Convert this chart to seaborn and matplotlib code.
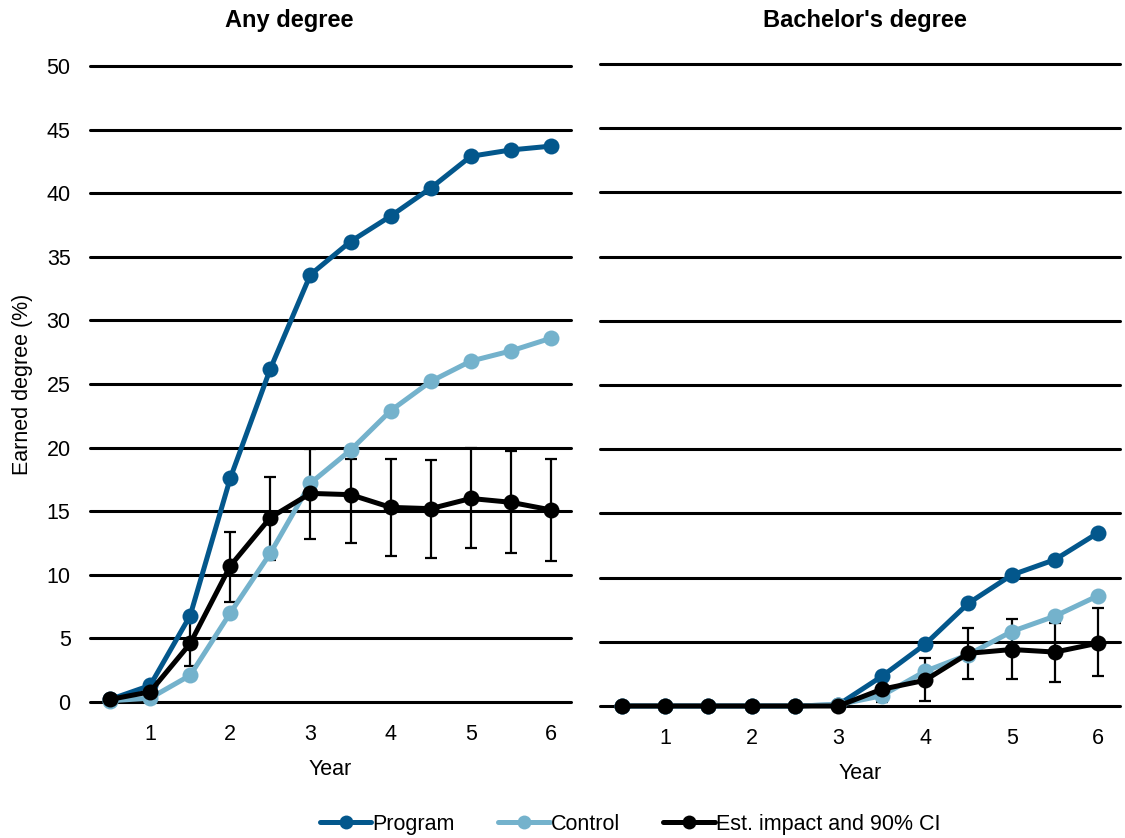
import numpy as np
import pandas as pd
import matplotlib
matplotlib.use("Agg")
import matplotlib.pyplot as plt
from matplotlib.lines import Line2D
import seaborn as sns

# half-year steps
years = [0.5, 1, 1.5, 2, 2.5, 3, 3.5, 4, 4.5, 5, 5.5, 6]
tick_years = [1, 2, 3, 4, 5, 6]

# Any degree
any_program = [0.2, 1.3, 6.8, 17.6, 26.2, 33.6, 36.2, 38.2, 40.4, 42.9, 43.4, 43.7]
any_control = [0.1, 0.3, 2.1, 7.0, 11.7, 17.2, 19.8, 22.9, 25.2, 26.8, 27.6, 28.6]
any_impact = [0.2, 0.8, 4.6, 10.7, 14.5, 16.4, 16.3, 15.3, 15.2, 16.0, 15.7, 15.1]
any_ci_low = [0.2, 0.8, 2.8, 7.9, 11.2, 12.8, 12.5, 11.5, 11.3, 12.1, 11.7, 11.1]
any_ci_high = [0.2, 0.8, 6.4, 13.4, 17.7, 19.9, 19.1, 19.1, 19.0, 20.0, 19.7, 19.1]

# Bachelor's degree
ba_program = [0, 0, 0, 0, 0, 0.1, 2.3, 4.8, 8.0, 10.2, 11.4, 13.5]
ba_control = [0, 0, 0, 0, 0, 0.1, 0.8, 2.7, 4.0, 5.8, 7.0, 8.6]
ba_impact = [0, 0, 0, 0, 0, 0, 1.3, 2.0, 4.1, 4.4, 4.2, 4.9]
ba_ci_low = [0, 0, 0, 0, 0, 0, 0.3, 0.4, 2.1, 2.1, 1.9, 2.3]
ba_ci_high = [0, 0, 0, 0, 0, 0, 2.3, 3.7, 6.1, 6.8, 6.5, 7.6]

series_names = ["Program", "Control", "Est. impact and 90% CI"]
colors = ["#03578C", "#74B2CC", "#000000"]

sns.set_style("white")
plt.rcParams["font.family"] = ["Liberation Sans", "DejaVu Sans"]
plt.rcParams["text.color"] = "black"
plt.rcParams["axes.labelcolor"] = "black"
plt.rcParams["xtick.color"] = "black"
plt.rcParams["ytick.color"] = "black"

FS = 15.5
W, H = 1125, 838
fig = plt.figure(figsize=(W / 100, H / 100), dpi=100)


def axes_at(x0, x1, y_top, y_bottom):
    return fig.add_axes([x0 / W, 1 - y_bottom / H, (x1 - x0) / W, (y_bottom - y_top) / H])


def draw_panel(ax, program, control, impact, lo, hi):
    df = pd.DataFrame({
        "year": years * 3,
        "value": program + control + impact,
        "series": np.repeat(series_names, len(years)),
    })
    ax.set_axisbelow(True)
    ax.yaxis.grid(True, color="black", lw=2.2)
    sns.lineplot(data=df, x="year", y="value", hue="series", palette=colors,
                 hue_order=series_names, marker="o", markersize=11.5,
                 markeredgewidth=0, lw=3.6, legend=False, ax=ax, clip_on=False,
                 zorder=3)
    imp = np.array(impact)
    err = [imp - np.array(lo), np.array(hi) - imp]
    ax.errorbar(years, impact, yerr=err, fmt="none", ecolor="black",
                elinewidth=1.6, capsize=4, capthick=1.6, zorder=2, clip_on=False)
    ax.set_ylim(0, 50)
    ax.set_yticks(range(0, 51, 5))
    ax.set_xlim(0.25, 6.25)
    ax.set_xticks(tick_years)
    ax.set_xticklabels([str(t) for t in tick_years])
    ax.tick_params(axis="both", length=0, labelsize=FS)
    ax.tick_params(axis="x", pad=16)
    ax.tick_params(axis="y", pad=14)
    ax.set_xlabel("Year", fontsize=FS, labelpad=10)
    ax.set_ylabel("")
    for gl in ax.get_ygridlines():
        gl.set_clip_on(False)
    sns.despine(ax=ax, left=True, bottom=True)


ax1 = axes_at(90, 571, 66, 702)
draw_panel(ax1, any_program, any_control, any_impact, any_ci_low, any_ci_high)
ax1.set_ylabel("Earned degree (%)", fontsize=FS, labelpad=10)

ax2 = axes_at(600, 1120, 64, 706)
draw_panel(ax2, ba_program, ba_control, ba_impact, ba_ci_low, ba_ci_high)
ax2.set_yticklabels([])

fig.text(289 / W, 1 - 21 / H, "Any degree", ha="center", va="center",
         fontsize=17, fontweight="bold")
fig.text(865 / W, 1 - 21 / H, "Bachelor's degree", ha="center", va="center",
         fontsize=17, fontweight="bold")

handles = [Line2D([0], [0], color=c, lw=3.6, marker="o", markersize=10,
                  markeredgewidth=0) for c in colors]
fig.legend(handles, series_names, loc="center", bbox_to_anchor=(630 / W, 1 - 824 / H),
           ncol=3, frameon=False, fontsize=FS, handlelength=2.4,
           handletextpad=0.05, columnspacing=2.0)

fig.savefig("out.png", dpi=100)
